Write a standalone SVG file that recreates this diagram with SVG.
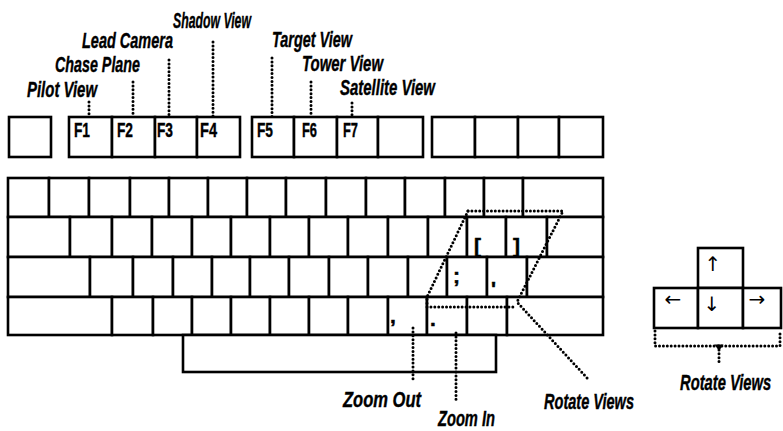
<svg xmlns="http://www.w3.org/2000/svg" width="783" height="431" viewBox="0 0 783 431">
<style>
.k{fill:#fff;stroke:#000;stroke-width:2.6;stroke-linejoin:miter}
.dot{fill:none;stroke:#000;stroke-width:3;stroke-linecap:round;stroke-dasharray:0 3.9}
.lbl{font-family:"Liberation Sans",Arial,sans-serif;font-style:italic;font-weight:bold;font-size:22px;fill:#000;stroke:#000;stroke-width:0.4}
.fk{font-family:"Liberation Sans",Arial,sans-serif;font-weight:bold;font-size:20px;fill:#000;stroke:#000;stroke-width:0.4}
.leg{font-family:"Liberation Sans",Arial,sans-serif;font-weight:bold;font-size:21px;fill:#000;stroke:#000;stroke-width:0.5}
.arr{font-family:"DejaVu Sans",sans-serif;font-size:20px;fill:#000;text-anchor:middle}
</style>
<rect width="783" height="431" fill="#fff"/>

<g id="function-row">
  <rect class="k" x="9" y="117" width="42" height="40"/>
  <rect class="k" x="69" y="117" width="43" height="40"/>
  <rect class="k" x="112" y="117" width="43" height="40"/>
  <rect class="k" x="155" y="117" width="42" height="40"/>
  <rect class="k" x="197" y="117" width="43" height="40"/>
  <rect class="k" x="252" y="117" width="42" height="40"/>
  <rect class="k" x="294" y="117" width="43" height="40"/>
  <rect class="k" x="337" y="117" width="41" height="40"/>
  <rect class="k" x="378" y="117" width="45" height="40"/>
  <rect class="k" x="432" y="117" width="43" height="40"/>
  <rect class="k" x="475" y="117" width="43" height="40"/>
  <rect class="k" x="518" y="117" width="41" height="40"/>
  <rect class="k" x="559" y="117" width="44" height="40"/>
  <text class="fk" x="74" y="137" textLength="16" lengthAdjust="spacingAndGlyphs">F1</text>
  <text class="fk" x="117" y="137" textLength="16" lengthAdjust="spacingAndGlyphs">F2</text>
  <text class="fk" x="157" y="137" textLength="16" lengthAdjust="spacingAndGlyphs">F3</text>
  <text class="fk" x="200" y="137" textLength="17" lengthAdjust="spacingAndGlyphs">F4</text>
  <text class="fk" x="257" y="137" textLength="16" lengthAdjust="spacingAndGlyphs">F5</text>
  <text class="fk" x="302" y="137" textLength="15" lengthAdjust="spacingAndGlyphs">F6</text>
  <text class="fk" x="343" y="137" textLength="15" lengthAdjust="spacingAndGlyphs">F7</text>
</g>

<g id="row1">
  <rect class="k" x="8" y="178" width="41" height="39"/>
  <rect class="k" x="49" y="178" width="40" height="39"/>
  <rect class="k" x="89" y="178" width="41" height="39"/>
  <rect class="k" x="130" y="178" width="39" height="39"/>
  <rect class="k" x="169" y="178" width="39" height="39"/>
  <rect class="k" x="208" y="178" width="39" height="39"/>
  <rect class="k" x="247" y="178" width="39" height="39"/>
  <rect class="k" x="286" y="178" width="40" height="39"/>
  <rect class="k" x="326" y="178" width="40" height="39"/>
  <rect class="k" x="366" y="178" width="39" height="39"/>
  <rect class="k" x="405" y="178" width="40" height="39"/>
  <rect class="k" x="445" y="178" width="39" height="39"/>
  <rect class="k" x="484" y="178" width="39" height="39"/>
  <rect class="k" x="523" y="178" width="80" height="39"/>
</g>

<g id="row2">
  <rect class="k" x="8" y="217" width="62" height="40"/>
  <rect class="k" x="70" y="217" width="42" height="40"/>
  <rect class="k" x="112" y="217" width="40" height="40"/>
  <rect class="k" x="152" y="217" width="40" height="40"/>
  <rect class="k" x="192" y="217" width="39" height="40"/>
  <rect class="k" x="231" y="217" width="39" height="40"/>
  <rect class="k" x="270" y="217" width="39" height="40"/>
  <rect class="k" x="309" y="217" width="39" height="40"/>
  <rect class="k" x="348" y="217" width="40" height="40"/>
  <rect class="k" x="388" y="217" width="40" height="40"/>
  <rect class="k" x="428" y="217" width="39" height="40"/>
  <rect class="k" x="467" y="217" width="39" height="40"/>
  <rect class="k" x="506" y="217" width="41" height="40"/>
  <rect class="k" x="547" y="217" width="56" height="40"/>
  <text class="leg" x="474" y="253">[</text>
  <text class="leg" x="513" y="253">]</text>
</g>

<g id="row3">
  <rect class="k" x="8" y="257" width="82" height="40"/>
  <rect class="k" x="90" y="257" width="43" height="40"/>
  <rect class="k" x="133" y="257" width="40" height="40"/>
  <rect class="k" x="173" y="257" width="39" height="40"/>
  <rect class="k" x="212" y="257" width="38" height="40"/>
  <rect class="k" x="250" y="257" width="39" height="40"/>
  <rect class="k" x="289" y="257" width="40" height="40"/>
  <rect class="k" x="329" y="257" width="39" height="40"/>
  <rect class="k" x="368" y="257" width="40" height="40"/>
  <rect class="k" x="408" y="257" width="39" height="40"/>
  <rect class="k" x="447" y="257" width="40" height="40"/>
  <rect class="k" x="487" y="257" width="40" height="40"/>
  <rect class="k" x="527" y="257" width="76" height="40"/>
  <text class="leg" x="453" y="283">;</text>
  <text class="leg" x="491" y="296">'</text>
</g>

<g id="row4">
  <rect class="k" x="8" y="297" width="104" height="38"/>
  <rect class="k" x="112" y="297" width="41" height="38"/>
  <rect class="k" x="153" y="297" width="39" height="38"/>
  <rect class="k" x="192" y="297" width="39" height="38"/>
  <rect class="k" x="231" y="297" width="39" height="38"/>
  <rect class="k" x="270" y="297" width="39" height="38"/>
  <rect class="k" x="309" y="297" width="39" height="38"/>
  <rect class="k" x="348" y="297" width="40" height="38"/>
  <rect class="k" x="388" y="297" width="39" height="38"/>
  <rect class="k" x="427" y="297" width="40" height="38"/>
  <rect class="k" x="467" y="297" width="40" height="38"/>
  <rect class="k" x="507" y="297" width="96" height="38"/>
  <text class="leg" x="390" y="323">,</text>
  <text class="leg" x="430" y="326">.</text>
</g>

<g id="spacebar">
  <rect class="k" x="183" y="335" width="313" height="37"/>
</g>

<g id="arrow-keys">
  <rect class="k" x="698" y="248" width="45" height="40"/>
  <rect class="k" x="654" y="288" width="44" height="40"/>
  <rect class="k" x="698" y="288" width="45" height="40"/>
  <rect class="k" x="743" y="288" width="38" height="40"/>
  <text class="arr" x="713" y="271">↑</text>
  <text class="arr" x="673" y="306">←</text>
  <text class="arr" x="712" y="311">↓</text>
  <text class="arr" x="757" y="306">→</text>
</g>

<g id="connectors">
  <path class="dot" d="M89,102V117"/>
  <path class="dot" d="M133,82V117"/>
  <path class="dot" d="M169,60V117"/>
  <path class="dot" d="M213,42V117"/>
  <path class="dot" d="M272,58V117"/>
  <path class="dot" d="M311,82V117"/>
  <path class="dot" d="M352,103V117"/>
  <path class="dot" d="M468,211H563L517,302L588,379"/>
  <path class="dot" d="M468,211L427,297V307H516"/>
  <path class="dot" d="M413,328V379"/>
  <path class="dot" d="M456,333V402"/>
  <path class="dot" d="M655,331V346H780V331"/>
  <path class="dot" d="M719,346V363"/>
  <path d="M714.5,344.5H723.5L719,351Z" fill="#000"/>
</g>

<g id="labels">
  <text id="pilot-view" class="lbl" x="27" y="97" textLength="70" lengthAdjust="spacingAndGlyphs">Pilot View</text>
  <text id="chase-plane" class="lbl" x="55" y="72" textLength="85" lengthAdjust="spacingAndGlyphs">Chase Plane</text>
  <text id="lead-camera" class="lbl" x="82" y="48" textLength="91" lengthAdjust="spacingAndGlyphs">Lead Camera</text>
  <text id="shadow-view" class="lbl" x="173" y="28" textLength="78" lengthAdjust="spacingAndGlyphs">Shadow View</text>
  <text id="target-view" class="lbl" x="272" y="47" textLength="80" lengthAdjust="spacingAndGlyphs">Target View</text>
  <text id="tower-view" class="lbl" x="302" y="71" textLength="81" lengthAdjust="spacingAndGlyphs">Tower View</text>
  <text id="satellite-view" class="lbl" x="340" y="95" textLength="95" lengthAdjust="spacingAndGlyphs">Satellite View</text>
  <text id="zoom-out" class="lbl" x="343" y="407" textLength="78" lengthAdjust="spacingAndGlyphs">Zoom Out</text>
  <text id="zoom-in" class="lbl" x="438" y="426" textLength="57" lengthAdjust="spacingAndGlyphs">Zoom In</text>
  <text id="rotate-views-keys" class="lbl" x="544" y="409" textLength="90" lengthAdjust="spacingAndGlyphs">Rotate Views</text>
  <text id="rotate-views-arrows" class="lbl" transform="translate(680,390) scale(0.67,1)" x="0" y="0">Rotate Views</text>
</g>
</svg>
